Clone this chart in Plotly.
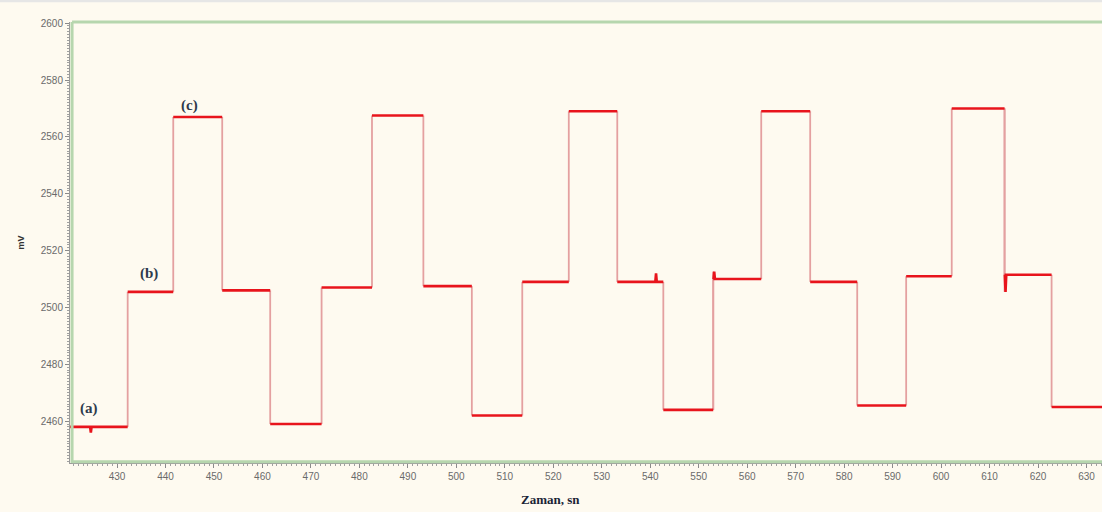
import plotly.graph_objects as go

# Step times (s) where the signal switches level
switch_times = [432.2, 441.6, 451.7, 461.6, 472.2, 482.6, 493.2, 503.2, 513.6, 523.2,
                533.2, 542.7, 553.0, 562.9, 573.0, 582.7, 592.8, 602.2, 613.1, 622.8]
# Plateau levels (mV) between the switches
levels = [2458.0, 2505.5, 2567.0, 2506.0, 2459.0, 2507.0, 2567.5, 2507.5, 2462.0, 2509.0,
          2569.0, 2509.0, 2464.0, 2510.0, 2569.0, 2509.0, 2465.5, 2511.0, 2570.0, 2511.5, 2465.0]
# Short spikes on the plateaus (time, mV)
spike_times = [424.6, 541.2, 553.2, 613.3]
spike_values = [2456.0, 2512.0, 2512.6, 2505.5]

t_start, t_end = 420.3, 633.2

# Labels of the three signal states
label_text = ["(a)", "(b)", "(c)"]
label_x = [424.2, 436.6, 444.9]
label_y = [2464.6, 2511.9, 2571.2]

x_ticks = list(range(430, 631, 10))
y_ticks = list(range(2460, 2601, 20))

bounds = [t_start] + switch_times + [t_end]

# Horizontal plateaus (bright trace)
px, py = [], []
for i, lvl in enumerate(levels):
    a, b = bounds[i], bounds[i + 1]
    px.append(a); py.append(lvl)
    for st, sv in zip(spike_times, spike_values):
        if a < st < b:
            px += [st - 0.15, st, st + 0.15]
            py += [lvl, sv, lvl]
    px.append(b); py.append(lvl)
    px.append(None); py.append(None)

# Vertical transitions (pale, thin)
vx, vy = [], []
for i, t in enumerate(switch_times):
    lo, hi = levels[i], levels[i + 1]
    vx += [t, t, None]
    vy += [lo, hi, None]
    for st, sv in zip(spike_times, spike_values):
        if abs(st - t) < 0.5:
            vx += [t, t, None]
            vy += [min(lo, hi, sv), max(lo, hi, sv), None]

fig = go.Figure()
fig.add_trace(go.Scatter(x=vx, y=vy, mode="lines",
                         line=dict(color="#E4A0A0", width=1.8), hoverinfo="skip"))
fig.add_trace(go.Scatter(x=px, y=py, mode="lines",
                         line=dict(color="#E8141C", width=2.6)))

for txt, lx, ly in zip(label_text, label_x, label_y):
    fig.add_annotation(x=lx, y=ly, text="<b>" + txt + "</b>", showarrow=False,
                       font=dict(family="Liberation Serif", size=15, color="#2E3B4C"))

# x-axis title, placed under the visible part of the axis
fig.add_annotation(xref="paper", yref="paper", x=0.466, y=-0.062, yanchor="top",
                   text="<b>Zaman, sn</b>", showarrow=False,
                   font=dict(family="Liberation Serif", size=13, color="#1A2436"))

cream = "#FEFAF0"
fig.update_layout(
    width=1102, height=512,
    margin=dict(l=70, r=0, t=22, b=49),
    paper_bgcolor=cream, plot_bgcolor=cream,
    showlegend=False,
    shapes=[
        # green frame of the plot area
        dict(type="line", xref="paper", yref="paper", x0=0.002, x1=0.002, y0=0, y1=1,
             line=dict(color="#B6D6AE", width=3)),
        dict(type="line", xref="paper", yref="paper", x0=0.002, x1=1, y0=1, y1=1,
             line=dict(color="#B6D6AE", width=3)),
        dict(type="line", xref="paper", yref="paper", x0=0.002, x1=1, y0=0.003, y1=0.003,
             line=dict(color="#B6D6AE", width=3)),
        # thin strip along the top of the page
        dict(type="rect", xref="paper", yref="paper", x0=-0.07, x1=1, y0=1.045, y1=1.06,
             fillcolor="#E6E6E6", line=dict(width=0), layer="below"),
    ],
    xaxis=dict(
        range=[t_start, t_end], tickvals=x_ticks, ticktext=[str(v) for v in x_ticks],
        showgrid=False, zeroline=False, showline=True, linecolor="#9A9A9A", linewidth=1,
        ticks="outside", ticklen=4, tickcolor="#8A8A8A",
        minor=dict(dtick=1, ticks="outside", ticklen=2, tickcolor="#A0A0A0", showgrid=False),
        tickfont=dict(family="Liberation Sans", size=10, color="#6A6A6A"),
    ),
    yaxis=dict(
        range=[2445.3, 2600.4], tickvals=y_ticks, ticktext=[str(v) for v in y_ticks],
        showgrid=False, zeroline=False, showline=True, linecolor="#9A9A9A", linewidth=1,
        ticks="outside", ticklen=4, tickcolor="#8A8A8A",
        minor=dict(dtick=1, ticks="outside", ticklen=2, tickcolor="#A0A0A0", showgrid=False),
        tickfont=dict(family="Liberation Sans", size=10, color="#6A6A6A"),
        title=dict(text="<b>mV</b>", standoff=14,
                   font=dict(family="Liberation Sans", size=9, color="#333333")),
    ),
)

fig.write_html("out.html")
